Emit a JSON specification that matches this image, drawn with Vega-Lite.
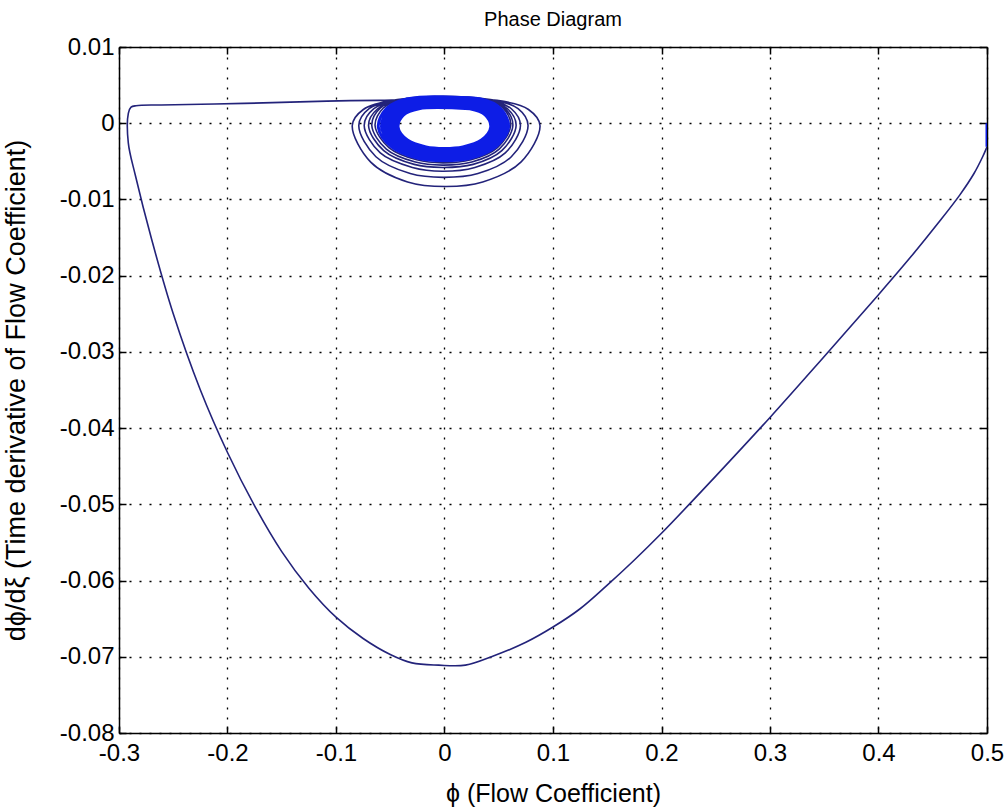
{
  "$schema": "https://vega.github.io/schema/vega-lite/v6.json",
  "width": 868,
  "height": 686,
  "autosize": {"type": "none"},
  "padding": {"left": 119, "top": 47, "right": 20, "bottom": 77},
  "background": "white",
  "title": {"text": "Phase Diagram", "font": "Liberation Sans", "fontSize": 20, "fontWeight": "normal", "color": "#000", "anchor": "middle", "offset": 5},
  "config": {
    "view": {"stroke": null},
    "axis": {
      "labelFont": "Liberation Sans", "labelFontSize": 24, "labelColor": "#000",
      "titleFont": "Liberation Sans", "titleFontWeight": "normal", "titleColor": "#000",
      "domainColor": "#000", "domainWidth": 1.5, "tickColor": "#000", "tickWidth": 1.5, "tickSize": -7,
      "labelFlush": false, "labelOverlap": false
    }
  },
  "data": {"values": [
    {"phi": 0.5, "dphi": 0.0, "i": 0, "part": "s"},
    {"phi": 0.5, "dphi": -0.0031, "i": 1, "part": "s"},
    {"phi": 0.5, "dphi": -0.0031, "i": 1, "part": "t"},
    {"phi": 0.496, "dphi": -0.0044, "i": 2, "part": "t"},
    {"phi": 0.488, "dphi": -0.0066, "i": 3, "part": "t"},
    {"phi": 0.475, "dphi": -0.0094, "i": 4, "part": "t"},
    {"phi": 0.455, "dphi": -0.0131, "i": 5, "part": "t"},
    {"phi": 0.43, "dphi": -0.0175, "i": 6, "part": "t"},
    {"phi": 0.40, "dphi": -0.0225, "i": 7, "part": "t"},
    {"phi": 0.35, "dphi": -0.0306, "i": 8, "part": "t"},
    {"phi": 0.30, "dphi": -0.0386, "i": 9, "part": "t"},
    {"phi": 0.25, "dphi": -0.0463, "i": 10, "part": "t"},
    {"phi": 0.20, "dphi": -0.0538, "i": 11, "part": "t"},
    {"phi": 0.175, "dphi": -0.0573, "i": 12, "part": "t"},
    {"phi": 0.15, "dphi": -0.0606, "i": 13, "part": "t"},
    {"phi": 0.125, "dphi": -0.0637, "i": 14, "part": "t"},
    {"phi": 0.10, "dphi": -0.0661, "i": 15, "part": "t"},
    {"phi": 0.075, "dphi": -0.0681, "i": 16, "part": "t"},
    {"phi": 0.045, "dphi": -0.0699, "i": 17, "part": "t"},
    {"phi": 0.0193, "dphi": -0.0711, "i": 18, "part": "t"},
    {"phi": -0.0054, "dphi": -0.0711, "i": 19, "part": "t"},
    {"phi": -0.03, "dphi": -0.0708, "i": 20, "part": "t"},
    {"phi": -0.05, "dphi": -0.0697, "i": 21, "part": "t"},
    {"phi": -0.075, "dphi": -0.0676, "i": 22, "part": "t"},
    {"phi": -0.10, "dphi": -0.0648, "i": 23, "part": "t"},
    {"phi": -0.125, "dphi": -0.0610, "i": 24, "part": "t"},
    {"phi": -0.15, "dphi": -0.0562, "i": 25, "part": "t"},
    {"phi": -0.175, "dphi": -0.0502, "i": 26, "part": "t"},
    {"phi": -0.20, "dphi": -0.0432, "i": 27, "part": "t"},
    {"phi": -0.225, "dphi": -0.0350, "i": 28, "part": "t"},
    {"phi": -0.25, "dphi": -0.0250, "i": 29, "part": "t"},
    {"phi": -0.27, "dphi": -0.0152, "i": 30, "part": "t"},
    {"phi": -0.285, "dphi": -0.0068, "i": 31, "part": "t"},
    {"phi": -0.2914, "dphi": -0.0026, "i": 38, "part": "t"},
    {"phi": -0.2914, "dphi": 0.0013, "i": 39, "part": "t"},
    {"phi": -0.2889, "dphi": 0.0021, "i": 40, "part": "t"},
    {"phi": -0.2843, "dphi": 0.0023, "i": 41, "part": "t"},
    {"phi": -0.2612, "dphi": 0.0024, "i": 42, "part": "t"},
    {"phi": -0.1847, "dphi": 0.0026, "i": 43, "part": "t"},
    {"phi": -0.1084, "dphi": 0.0029, "i": 44, "part": "t"},
    {"phi": -0.0600, "dphi": 0.0030, "i": 45, "part": "t"},
    {"phi": 0.0484, "dphi": 0.0030, "i": 46, "part": "t"},
    {"phi": 0.0774, "dphi": 0.0018, "i": 47, "part": "t"},
    {"phi": 0.088, "dphi": -0.0003, "i": 48, "part": "t"},
    {"phi": 0.0704, "dphi": -0.0051, "i": 49, "part": "t"},
    {"phi": 0.0352, "dphi": -0.0077, "i": 50, "part": "t"},
    {"phi": 0.0015, "dphi": -0.0083, "i": 51, "part": "t"},
    {"phi": -0.034, "dphi": -0.0077, "i": 52, "part": "t"},
    {"phi": -0.068, "dphi": -0.0051, "i": 53, "part": "t"},
    {"phi": -0.085, "dphi": -0.0003, "i": 54, "part": "t"},
    {"phi": -0.0748, "dphi": 0.0018, "i": 55, "part": "t"},
    {"phi": -0.0468, "dphi": 0.0030, "i": 56, "part": "t"},
    {"phi": 0.0424, "dphi": 0.0031, "i": 57, "part": "t"},
    {"phi": 0.0678, "dphi": 0.0019, "i": 58, "part": "t"},
    {"phi": 0.077, "dphi": -0.0003, "i": 59, "part": "t"},
    {"phi": 0.0616, "dphi": -0.0044, "i": 60, "part": "t"},
    {"phi": 0.0308, "dphi": -0.0066, "i": 61, "part": "t"},
    {"phi": -0.001, "dphi": -0.0071, "i": 62, "part": "t"},
    {"phi": -0.0316, "dphi": -0.0066, "i": 63, "part": "t"},
    {"phi": -0.0632, "dphi": -0.0044, "i": 64, "part": "t"},
    {"phi": -0.079, "dphi": -0.0003, "i": 65, "part": "t"},
    {"phi": -0.0695, "dphi": 0.0019, "i": 66, "part": "t"},
    {"phi": -0.0435, "dphi": 0.0031, "i": 67, "part": "t"},
    {"phi": 0.0385, "dphi": 0.0031, "i": 68, "part": "t"},
    {"phi": 0.0616, "dphi": 0.0019, "i": 69, "part": "t"},
    {"phi": 0.070, "dphi": -0.0003, "i": 70, "part": "t"},
    {"phi": 0.056, "dphi": -0.0039, "i": 71, "part": "t"},
    {"phi": 0.028, "dphi": -0.0058, "i": 72, "part": "t"},
    {"phi": -0.002, "dphi": -0.0063, "i": 73, "part": "t"},
    {"phi": -0.0296, "dphi": -0.0058, "i": 74, "part": "t"},
    {"phi": -0.0592, "dphi": -0.0039, "i": 75, "part": "t"},
    {"phi": -0.074, "dphi": -0.0003, "i": 76, "part": "t"},
    {"phi": -0.0651, "dphi": 0.0019, "i": 77, "part": "t"},
    {"phi": -0.0407, "dphi": 0.0031, "i": 78, "part": "t"},
    {"phi": 0.0363, "dphi": 0.0031, "i": 79, "part": "t"},
    {"phi": 0.0581, "dphi": 0.0019, "i": 80, "part": "t"},
    {"phi": 0.066, "dphi": -0.0003, "i": 81, "part": "t"},
    {"phi": 0.0528, "dphi": -0.0036, "i": 82, "part": "t"},
    {"phi": 0.0264, "dphi": -0.0054, "i": 83, "part": "t"},
    {"phi": -0.002, "dphi": -0.0058, "i": 84, "part": "t"},
    {"phi": -0.028, "dphi": -0.0054, "i": 85, "part": "t"},
    {"phi": -0.056, "dphi": -0.0036, "i": 86, "part": "t"},
    {"phi": -0.070, "dphi": -0.0003, "i": 87, "part": "t"},
    {"phi": -0.0616, "dphi": 0.0019, "i": 88, "part": "t"},
    {"phi": -0.0385, "dphi": 0.0031, "i": 89, "part": "t"},
    {"phi": 0.0347, "dphi": 0.0032, "i": 90, "part": "t"},
    {"phi": 0.0554, "dphi": 0.0020, "i": 91, "part": "t"},
    {"phi": 0.063, "dphi": -0.0003, "i": 92, "part": "t"},
    {"phi": 0.0504, "dphi": -0.0034, "i": 93, "part": "t"},
    {"phi": 0.0252, "dphi": -0.0051, "i": 94, "part": "t"},
    {"phi": -0.002, "dphi": -0.0055, "i": 95, "part": "t"},
    {"phi": -0.0268, "dphi": -0.0051, "i": 96, "part": "t"},
    {"phi": -0.0536, "dphi": -0.0034, "i": 97, "part": "t"},
    {"phi": -0.067, "dphi": -0.0003, "i": 98, "part": "t"},
    {"phi": -0.059, "dphi": 0.0020, "i": 99, "part": "t"},
    {"phi": -0.0369, "dphi": 0.0032, "i": 100, "part": "t"},
    {"phi": 0.0336, "dphi": 0.0032, "i": 101, "part": "t"},
    {"phi": 0.0537, "dphi": 0.0020, "i": 102, "part": "t"},
    {"phi": 0.061, "dphi": -0.0003, "i": 103, "part": "t"},
    {"phi": 0.0488, "dphi": -0.0032, "i": 104, "part": "t"},
    {"phi": 0.0244, "dphi": -0.0048, "i": 105, "part": "t"},
    {"phi": -0.0015, "dphi": -0.0052, "i": 106, "part": "t"},
    {"phi": -0.0256, "dphi": -0.0048, "i": 107, "part": "t"},
    {"phi": -0.0512, "dphi": -0.0032, "i": 108, "part": "t"},
    {"phi": -0.064, "dphi": -0.0003, "i": 109, "part": "t"},
    {"phi": -0.0563, "dphi": 0.0020, "i": 110, "part": "t"},
    {"phi": -0.0352, "dphi": 0.0032, "i": 111, "part": "t"},
    {"phi": -0.0352, "dphi": 0.0032, "i": 200, "part": "c"},
    {"phi": 0.0325, "dphi": 0.0032, "i": 201, "part": "c"},
    {"phi": 0.0519, "dphi": 0.0019, "i": 202, "part": "c"},
    {"phi": 0.059, "dphi": -0.0005, "i": 203, "part": "c"},
    {"phi": 0.0472, "dphi": -0.0031, "i": 204, "part": "c"},
    {"phi": 0.0236, "dphi": -0.0046, "i": 205, "part": "c"},
    {"phi": -0.001, "dphi": -0.0049, "i": 206, "part": "c"},
    {"phi": -0.0244, "dphi": -0.0046, "i": 207, "part": "c"},
    {"phi": -0.0488, "dphi": -0.0031, "i": 208, "part": "c"},
    {"phi": -0.061, "dphi": -0.0005, "i": 209, "part": "c"},
    {"phi": -0.0537, "dphi": 0.0019, "i": 210, "part": "c"},
    {"phi": -0.0336, "dphi": 0.0032, "i": 211, "part": "c"},
    {"phi": 0.0311, "dphi": 0.0030, "i": 212, "part": "c"},
    {"phi": 0.0497, "dphi": 0.0018, "i": 213, "part": "c"},
    {"phi": 0.0565, "dphi": -0.0005, "i": 214, "part": "c"},
    {"phi": 0.0452, "dphi": -0.0030, "i": 215, "part": "c"},
    {"phi": 0.0226, "dphi": -0.0043, "i": 216, "part": "c"},
    {"phi": -0.0008, "dphi": -0.0046, "i": 217, "part": "c"},
    {"phi": -0.0232, "dphi": -0.0043, "i": 218, "part": "c"},
    {"phi": -0.0464, "dphi": -0.0030, "i": 219, "part": "c"},
    {"phi": -0.058, "dphi": -0.0005, "i": 220, "part": "c"},
    {"phi": -0.051, "dphi": 0.0018, "i": 221, "part": "c"},
    {"phi": -0.0319, "dphi": 0.0030, "i": 222, "part": "c"},
    {"phi": 0.0297, "dphi": 0.0028, "i": 223, "part": "c"},
    {"phi": 0.0475, "dphi": 0.0016, "i": 224, "part": "c"},
    {"phi": 0.054, "dphi": -0.0005, "i": 225, "part": "c"},
    {"phi": 0.0432, "dphi": -0.0028, "i": 226, "part": "c"},
    {"phi": 0.0216, "dphi": -0.0040, "i": 227, "part": "c"},
    {"phi": -0.0008, "dphi": -0.0043, "i": 228, "part": "c"},
    {"phi": -0.0222, "dphi": -0.0040, "i": 229, "part": "c"},
    {"phi": -0.0444, "dphi": -0.0028, "i": 230, "part": "c"},
    {"phi": -0.0555, "dphi": -0.0005, "i": 231, "part": "c"},
    {"phi": -0.0488, "dphi": 0.0016, "i": 232, "part": "c"},
    {"phi": -0.0305, "dphi": 0.0028, "i": 233, "part": "c"},
    {"phi": 0.0283, "dphi": 0.0026, "i": 234, "part": "c"},
    {"phi": 0.0453, "dphi": 0.0015, "i": 235, "part": "c"},
    {"phi": 0.0515, "dphi": -0.0005, "i": 236, "part": "c"},
    {"phi": 0.0412, "dphi": -0.0027, "i": 237, "part": "c"},
    {"phi": 0.0206, "dphi": -0.0038, "i": 238, "part": "c"},
    {"phi": -0.0008, "dphi": -0.0041, "i": 239, "part": "c"},
    {"phi": -0.0212, "dphi": -0.0038, "i": 240, "part": "c"},
    {"phi": -0.0424, "dphi": -0.0027, "i": 241, "part": "c"},
    {"phi": -0.053, "dphi": -0.0005, "i": 242, "part": "c"},
    {"phi": -0.0466, "dphi": 0.0015, "i": 243, "part": "c"},
    {"phi": -0.0292, "dphi": 0.0026, "i": 244, "part": "c"},
    {"phi": 0.027, "dphi": 0.0024, "i": 245, "part": "c"},
    {"phi": 0.0431, "dphi": 0.0014, "i": 246, "part": "c"},
    {"phi": 0.049, "dphi": -0.0005, "i": 247, "part": "c"},
    {"phi": 0.0392, "dphi": -0.0025, "i": 248, "part": "c"},
    {"phi": 0.0196, "dphi": -0.0036, "i": 249, "part": "c"},
    {"phi": -0.0008, "dphi": -0.0039, "i": 250, "part": "c"},
    {"phi": -0.0202, "dphi": -0.0036, "i": 251, "part": "c"},
    {"phi": -0.0404, "dphi": -0.0025, "i": 252, "part": "c"},
    {"phi": -0.0505, "dphi": -0.0005, "i": 253, "part": "c"},
    {"phi": -0.0444, "dphi": 0.0014, "i": 254, "part": "c"},
    {"phi": -0.0278, "dphi": 0.0024, "i": 255, "part": "c"},
    {"phi": 0.0259, "dphi": 0.0022, "i": 256, "part": "c"},
    {"phi": 0.0414, "dphi": 0.0013, "i": 257, "part": "c"},
    {"phi": 0.047, "dphi": -0.0005, "i": 258, "part": "c"},
    {"phi": 0.0376, "dphi": -0.0024, "i": 259, "part": "c"},
    {"phi": 0.0188, "dphi": -0.0034, "i": 260, "part": "c"},
    {"phi": -0.0005, "dphi": -0.0037, "i": 261, "part": "c"},
    {"phi": -0.0192, "dphi": -0.0034, "i": 262, "part": "c"},
    {"phi": -0.0384, "dphi": -0.0024, "i": 263, "part": "c"},
    {"phi": -0.048, "dphi": -0.0005, "i": 264, "part": "c"},
    {"phi": -0.0422, "dphi": 0.0013, "i": 265, "part": "c"},
    {"phi": -0.0264, "dphi": 0.0022, "i": 266, "part": "c"},
    {"phi": 0.0249, "dphi": 0.0021, "i": 267, "part": "c"},
    {"phi": 0.0398, "dphi": 0.0012, "i": 268, "part": "c"},
    {"phi": 0.0452, "dphi": -0.0005, "i": 269, "part": "c"},
    {"phi": 0.0362, "dphi": -0.0023, "i": 270, "part": "c"},
    {"phi": 0.0181, "dphi": -0.0033, "i": 271, "part": "c"},
    {"phi": -0.0003, "dphi": -0.0035, "i": 272, "part": "c"},
    {"phi": -0.0183, "dphi": -0.0033, "i": 273, "part": "c"},
    {"phi": -0.0366, "dphi": -0.0023, "i": 274, "part": "c"},
    {"phi": -0.0458, "dphi": -0.0005, "i": 275, "part": "c"},
    {"phi": -0.0403, "dphi": 0.0012, "i": 276, "part": "c"},
    {"phi": -0.0252, "dphi": 0.0021, "i": 277, "part": "c"},
    {"phi": 0.024, "dphi": 0.0020, "i": 278, "part": "c"},
    {"phi": 0.0384, "dphi": 0.0011, "i": 279, "part": "c"},
    {"phi": 0.0436, "dphi": -0.0005, "i": 280, "part": "c"},
    {"phi": 0.0349, "dphi": -0.0022, "i": 281, "part": "c"},
    {"phi": 0.0174, "dphi": -0.0032, "i": 282, "part": "c"},
    {"phi": -0.0001, "dphi": -0.0034, "i": 283, "part": "c"},
    {"phi": -0.0175, "dphi": -0.0032, "i": 284, "part": "c"},
    {"phi": -0.035, "dphi": -0.0022, "i": 285, "part": "c"},
    {"phi": -0.0438, "dphi": -0.0005, "i": 286, "part": "c"},
    {"phi": -0.0385, "dphi": 0.0011, "i": 287, "part": "c"},
    {"phi": -0.0241, "dphi": 0.0020, "i": 288, "part": "c"},
    {"phi": 0.0234, "dphi": 0.0019, "i": 289, "part": "c"},
    {"phi": 0.0375, "dphi": 0.0011, "i": 290, "part": "c"},
    {"phi": 0.0426, "dphi": -0.0005, "i": 291, "part": "c"},
    {"phi": 0.0341, "dphi": -0.0022, "i": 292, "part": "c"},
    {"phi": 0.017, "dphi": -0.0031, "i": 293, "part": "c"},
    {"phi": -0.0001, "dphi": -0.0033, "i": 294, "part": "c"},
    {"phi": -0.0171, "dphi": -0.0031, "i": 295, "part": "c"},
    {"phi": -0.0342, "dphi": -0.0022, "i": 296, "part": "c"},
    {"phi": -0.0428, "dphi": -0.0005, "i": 297, "part": "c"},
    {"phi": -0.0377, "dphi": 0.0011, "i": 298, "part": "c"},
    {"phi": -0.0235, "dphi": 0.0019, "i": 299, "part": "c"},
    {"phi": 0.0234, "dphi": 0.0019, "i": 300, "part": "c"}
  ]},
  "layer": [
    {
      "transform": [{"filter": "datum.part == 't'"}],
      "mark": {"type": "line", "color": "#23237a", "strokeWidth": 1.6, "interpolate": "catmull-rom", "clip": true},
      "encoding": {
        "x": {"field": "phi", "type": "quantitative", "scale": {"domain": [-0.3, 0.5], "nice": false, "zero": false},
          "axis": {"orient": "bottom", "values": [-0.3, -0.2, -0.1, 0, 0.1, 0.2, 0.3, 0.4, 0.5],
            "labelExpr": "datum.value == 0 ? '0' : (datum.value < 0 ? '-' + format(-datum.value, '.1f') : format(datum.value, '.1f'))",
            "title": "ϕ (Flow Coefficient)", "titleFontSize": 25, "grid": true, "gridDash": [2, 8], "gridColor": "#000", "gridWidth": 1.3,
            "labelPadding": 15, "titlePadding": 16}},
        "y": {"field": "dphi", "type": "quantitative", "scale": {"domain": [-0.08, 0.01], "nice": false, "zero": false},
          "axis": {"orient": "left", "values": [-0.08, -0.07, -0.06, -0.05, -0.04, -0.03, -0.02, -0.01, 0, 0.01],
            "labelExpr": "datum.value == 0 ? '0' : (datum.value < 0 ? '-' + format(-datum.value, '.2f') : format(datum.value, '.2f'))",
            "title": "dϕ/dξ (Time derivative of Flow Coefficient)", "titleFontSize": 27, "grid": true, "gridDash": [2, 8], "gridColor": "#000", "gridWidth": 1.3,
            "labelPadding": 12, "titlePadding": 29}},
        "order": {"field": "i", "type": "quantitative"}
      }
    },
    {
      "transform": [{"filter": "datum.part != 't'"}],
      "mark": {"type": "line", "color": "#0d1de6", "strokeWidth": 3, "interpolate": "catmull-rom", "clip": true},
      "encoding": {
        "x": {"field": "phi", "type": "quantitative", "scale": {"domain": [-0.3, 0.5], "nice": false, "zero": false},
          "axis": {"orient": "top", "values": [-0.3, -0.2, -0.1, 0, 0.1, 0.2, 0.3, 0.4, 0.5], "labels": false, "title": null, "grid": false}},
        "y": {"field": "dphi", "type": "quantitative", "scale": {"domain": [-0.08, 0.01], "nice": false, "zero": false},
          "axis": {"orient": "right", "values": [-0.08, -0.07, -0.06, -0.05, -0.04, -0.03, -0.02, -0.01, 0, 0.01], "labels": false, "title": null, "grid": false}},
        "detail": {"field": "part"},
        "order": {"field": "i", "type": "quantitative"}
      }
    }
  ],
  "resolve": {"axis": {"x": "independent", "y": "independent"}}
}
